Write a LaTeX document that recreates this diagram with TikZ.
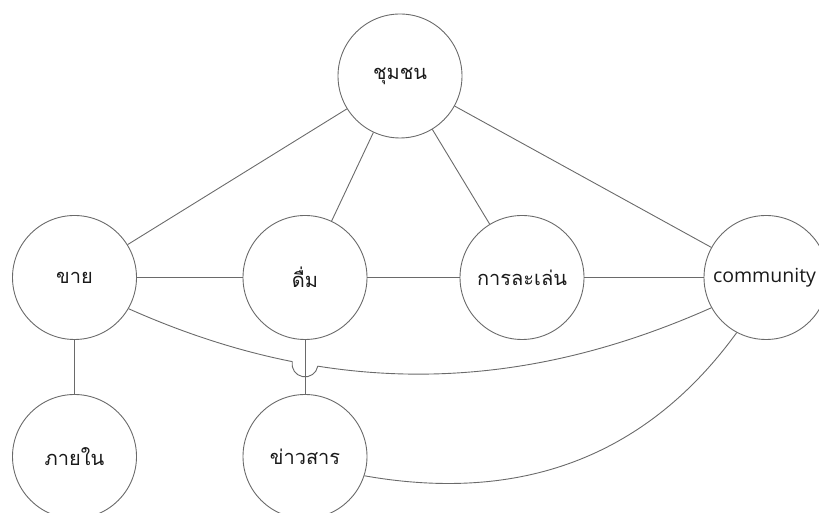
\documentclass[tikz,border=0pt]{standalone}
\usepackage{fontspec}
\newfontfamily\thaifont[Script=Thai]{Loma}
\newfontfamily\latfont{Open Sans}
\usetikzlibrary{intersections,calc}
\definecolor{linegray}{HTML}{6A6A6A}
\definecolor{txt}{HTML}{1A1A1A}
\begin{document}
\begin{tikzpicture}[x=1pt,y=1pt,
  bub/.style={circle,draw=linegray,line width=0.9pt,minimum size=124pt,inner sep=0pt,text=txt,font=\thaifont\fontsize{20}{22}\selectfont},
  link/.style={draw=linegray,line width=0.9pt}]
\useasboundingbox (0,0) rectangle (819,513);
\clip (0,0) rectangle (819,513);
\node[bub] (chum) at (400,437) {ชุมชน};
\node[bub] (khai) at (74.5,235.5) {ขาย};
\node[bub] (duem) at (305,235.5) {ดื่ม};
\node[bub] (kan) at (522,235.5) {การละเล่น};
\node[bub,font=\latfont\fontsize{19.5}{22}\selectfont] (comm) at (766,235.5) {\hspace*{-3pt}community};
\node[bub] (phai) at (74.5,56.5) {ภายใน};
\node[bub] (khao) at (305,56.5) {ข่าวสาร};
\draw[link] (chum) -- (khai);
\draw[link] (chum) -- (duem);
\draw[link] (chum) -- (kan);
\draw[link] (chum) -- (comm);
\draw[link] (khai) -- (duem);
\draw[link] (duem) -- (kan);
\draw[link] (kan) -- (comm);
\draw[link] (khai) -- (phai);
\draw[link, name path=dk] (duem) -- (khao);
\draw[link, name path=kc] (khai.-30) .. controls +(-24:216) and +(204:216) .. (comm.209);
\draw[link] (comm.242) .. controls +(234:143) and +(-10:170) .. (khao.-18);
\path[name intersections={of=kc and dk, by=X}];
\path[name path=hc] (X) circle[radius=13];
\path[name intersections={of=kc and hc, by={A,B}, sort by=kc}];
\fill[white] (X) circle[radius=13];
\draw[link] (duem) -- (khao);
\draw[link] let \p1=($(B)-(A)$), \n1={atan2(\y1,\x1)} in (A) arc[start angle=\n1+180, delta angle=180, radius=13];
\end{tikzpicture}
\end{document}
